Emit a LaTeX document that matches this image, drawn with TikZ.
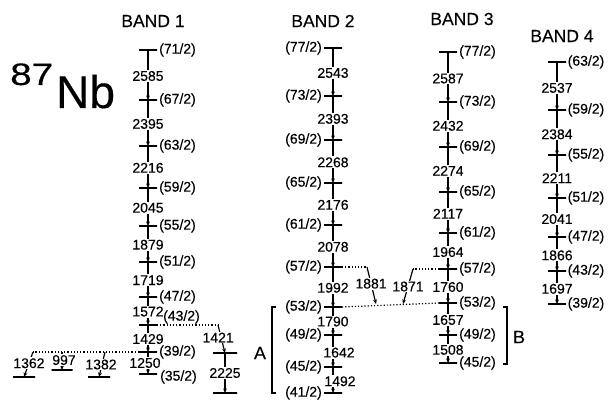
\documentclass[tikz,border=0pt]{standalone}
\usepackage{fontspec}
\setmainfont{Liberation Sans}[FakeBold=0.3]
\usetikzlibrary{arrows.meta}
\begin{document}
\begin{tikzpicture}[x=1pt,y=-1pt,
  lev/.style={draw, line width=1.3pt, rectangle, minimum width=18pt, minimum height=0pt, inner sep=0pt, outer sep=0pt},
  tr/.style={line width=1.2pt, -{Stealth[length=4.5pt,width=3.8pt]}},
  en/.style={fill=white, inner sep=1pt, font=\fontsize{14}{14}\selectfont},
  sp/.style={inner sep=2pt, font=\fontsize{14}{14}\selectfont},
  dots/.style={line width=1.2pt, dotted},
  hdr/.style={font=\fontsize{17.5}{17.5}\selectfont},
  brk/.style={line width=1.4pt}
]
\useasboundingbox (0,0) rectangle (612,403);

% title
\node[anchor=base west, inner sep=0pt, font=\fontsize{31}{31}\selectfont] (iso) at (10,85) {\scalebox{1.25}[1]{87}};
\node[anchor=base west, inner sep=0pt, font=\fontsize{46}{46}\selectfont] (nb) at (56,108) {Nb};

% headers
\node[hdr] (h1) at (153,21) {BAND 1};
\node[hdr] (h2) at (323,21) {BAND 2};
\node[hdr] (h3) at (462,19) {BAND 3};
\node[hdr] (h4) at (562,36) {BAND 4};

% ---------- BAND 1 ----------
\foreach \s/\y in {71/50,67/100,63/146,59/188,55/226,51/262,47/297,43/325,39/352,35/374}
  \node[lev] (a\s) at (148,\y) {};
\foreach \a/\b/\e in {71/67/2585,67/63/2395,63/59/2216,59/55/2045,55/51/1879,51/47/1719,47/43/1572,43/39/1429}
  \draw[tr] (a\a) -- node[en, pos=0.52]{\e} (a\b);
\draw[tr] (a39) -- node[en, pos=0.5, xshift=-3pt]{1250} (a35);
\foreach \s in {71,67,63,59,55,51,47,39}
  \node[sp, right] (as\s) at (a\s.east) {(\s/2)};
\node[sp, anchor=west, inner sep=0pt] (as43) at (163,317) {(43/2)};
\node[sp, anchor=west, inner sep=0pt] (as35) at (160,377) {(35/2)};

% side branch 1421 / 2225
\node[lev, minimum width=24pt] (s1) at (225,353) {};
\node[lev, minimum width=24pt] (s2) at (225,393) {};
\coordinate (k1421) at (218,325);
\draw[dots] (a43.east) -- (k1421);
\draw[tr] (k1421) -- node[en, pos=0.45, xshift=-3pt]{1421} (s1);
\draw[tr] (s1) -- node[en]{2225} (s2);

% bottom-left branches
\node[lev, minimum width=22pt] (c1362) at (24,377) {};
\node[lev, minimum width=21pt] (c997) at (62,370) {};
\node[lev, minimum width=22pt] (c1382) at (99,377) {};
\coordinate (k1362) at (33,352);
\coordinate (k997) at (62,352);
\coordinate (k1382) at (105,352);
\draw[dots] (a39.west) -- (k1362);
\draw[tr] (k1362) -- node[en, pos=0.45]{1362} (c1362);
\draw[tr] (k997) -- node[en, pos=0.45, xshift=2pt]{997} (c997);
\draw[tr] (k1382) -- node[en, pos=0.5, xshift=-1pt]{1382} (c1382);

% ---------- BAND 2 ----------
\foreach \s/\y in {77/48,73/96,69/140,65/183,61/225,57/267,53/307,49/335,45/367,41/393}
  \node[lev] (b\s) at (333,\y) {};
\foreach \a/\b/\e in {77/73/2543,73/69/2393,69/65/2268,65/61/2176,61/57/2078,57/53/1992,53/49/1790}
  \draw[tr] (b\a) -- node[en, pos=0.52]{\e} (b\b);
\draw[tr] (b49) -- node[en, pos=0.55, xshift=6pt]{1642} (b45);
\draw[tr] (b45) -- node[en, pos=0.55, xshift=7pt]{1492} (b41);
\foreach \s in {77,73,69,65,61,57,53,49,45,41}
  \node[sp, left] (bs\s) at (b\s.west) {(\s/2)};

% bracket A
\draw[brk] (276,307) -- (272,307) -- (272,393) -- (276,393);
\node[font=\fontsize{18}{18}\selectfont] (labA) at (260,353) {A};

% ---------- BAND 3 ----------
\foreach \s/\y in {77/52,73/102,69/147,65/192,61/233,57/269,53/303,49/335,45/363}
  \node[lev] (c\s) at (448,\y) {};
\foreach \a/\b/\e in {77/73/2587,73/69/2432,69/65/2274,65/61/2117,61/57/1964,57/53/1760,53/49/1657,49/45/1508}
  \draw[tr] (c\a) -- node[en, pos=0.53]{\e} (c\b);
\foreach \s in {77,73,69,65,61,57,53,49,45}
  \node[sp, right] (cs\s) at (c\s.east) {(\s/2)};

% bracket B
\draw[brk] (503,307) -- (507,307) -- (507,364) -- (503,364);
\node[font=\fontsize{18}{18}\selectfont] (labB) at (519,337) {B};

% ---------- BAND 4 ----------
\foreach \s/\y in {63/62,59/110,55/155,51/198,47/237,43/271,39/304}
  \node[lev] (d\s) at (557,\y) {};
\foreach \a/\b/\e in {63/59/2537,59/55/2384,55/51/2211,51/47/2041,47/43/1866,43/39/1697}
  \draw[tr] (d\a) -- node[en, pos=0.54]{\e} (d\b);
\foreach \s in {63,59,55,51,47,43,39}
  \node[sp, right, inner sep=1.5pt] (ds\s) at (d\s.east) {(\s/2)};

% ---------- inter-band transitions ----------
\coordinate (k1881) at (367,267);
\coordinate (t1881) at (376,304);
\coordinate (k1871) at (413,269);
\coordinate (t1871) at (403,304);
\draw[dots] (b57.east) -- (k1881);
\draw[tr] (k1881) -- node[en, pos=0.45]{1881} (t1881);
\draw[dots] (c57.west) -- (k1871);
\draw[tr] (k1871) -- node[en, pos=0.5]{1871} (t1871);
\draw[dots] (b53.east) -- (c53.west);
\end{tikzpicture}
\end{document}
